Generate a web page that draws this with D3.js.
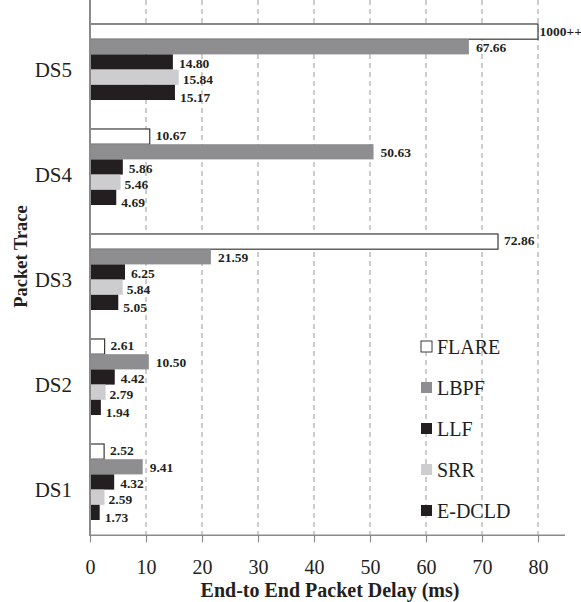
<!DOCTYPE html>
<html>
<head>
<meta charset="utf-8">
<script src="https://cdn.jsdelivr.net/npm/d3@7"></script>
<style>
  html, body { margin: 0; padding: 0; background: #fff; }
  svg { display: block; }
  text { font-family: "Liberation Serif", "Times New Roman", serif; fill: #231f20; }
</style>
</head>
<body>
<svg id="chart" width="581" height="602"></svg>
<script>
// Packet traces, top to bottom
const categories = ["DS5", "DS4", "DS3", "DS2", "DS1"];
const seriesNames = ["FLARE", "LBPF", "LLF", "SRR", "E-DCLD"];

// End-to-end packet delay (ms) per trace
const flare = [1000, 10.67, 72.86, 2.61, 2.52];
const lbpf  = [67.66, 50.63, 21.59, 10.50, 9.41];
const llf   = [14.80, 5.86, 6.25, 4.42, 4.32];
const srr   = [15.84, 5.46, 5.84, 2.79, 2.59];
const edcld = [15.17, 4.69, 5.05, 1.94, 1.73];

const xTicks = [0, 10, 20, 30, 40, 50, 60, 70, 80];
const xMax = 80;

const seriesValues = [flare, lbpf, llf, srr, edcld];
const seriesFill = ["#ffffff", "#8e8e90", "#231f20", "#cdcdcf", "#231f20"];
const seriesStroke = ["#3a3a3a", "none", "none", "none", "none"];
// label nudges for each series (dx, dy)
const labelDx = [6, 7, 6, 4, 5];
const labelDy = [-1, 0, 1, 2, 5];

const svg = d3.select("#chart");

const plotLeft = 90, plotRight = 538, plotTop = 9.5, plotBottom = 534.5, axisY = 535.3;

const x = d3.scaleLinear().domain([0, xMax]).range([plotLeft, plotRight]).clamp(true);
const y = d3.scaleBand().domain(categories).range([plotTop, plotBottom])
  .paddingInner(0.276).paddingOuter(0.138);
const ySub = d3.scaleBand().domain(seriesNames).range([0, y.bandwidth()]);

// dashed vertical gridlines
svg.append("g").selectAll("line")
  .data(xTicks.filter(d => d > 0))
  .join("line")
  .attr("x1", d => x(d)).attr("x2", d => x(d))
  .attr("y1", 0).attr("y2", axisY)
  .attr("stroke", "#9a9a9a").attr("stroke-width", 1)
  .attr("stroke-dasharray", "5,4");

// bars
const rows = [];
categories.forEach((c, i) => {
  seriesNames.forEach((s, j) => {
    rows.push({ cat: c, series: s, si: j, value: seriesValues[j][i] });
  });
});

const groups = svg.append("g");
groups.selectAll("rect")
  .data(rows)
  .join("rect")
  .attr("x", x(0))
  .attr("y", d => y(d.cat) + ySub(d.series))
  .attr("width", d => x(d.value) - x(0))
  .attr("height", ySub.bandwidth())
  .attr("fill", d => seriesFill[d.si])
  .attr("stroke", d => seriesStroke[d.si])
  .attr("stroke-width", 1.2);

// value labels
groups.selectAll("text")
  .data(rows)
  .join("text")
  .attr("x", d => x(d.value) + (d.value > xMax ? 1.5 : labelDx[d.si]))
  .attr("y", d => y(d.cat) + ySub(d.series) + ySub.bandwidth() / 2 + (d.value > xMax ? 0 : labelDy[d.si]))
  .attr("dy", "0.35em")
  .attr("font-size", 13.5)
  .attr("font-weight", "bold")
  .text(d => d.value > xMax ? "1000++" : d3.format(".2f")(d.value));

// x axis
const xAxis = svg.append("g")
  .attr("transform", `translate(0,${axisY})`)
  .call(d3.axisBottom(x).tickValues(xTicks).tickSize(7).tickPadding(18).tickFormat(d3.format("d")));
xAxis.select(".domain").remove();
xAxis.selectAll(".tick line").attr("stroke", "#8a8a8a").attr("stroke-width", 1.2);
xAxis.selectAll(".tick text").attr("font-size", 20).attr("font-family", "Liberation Serif").attr("fill", "#231f20");
svg.append("line")
  .attr("x1", plotLeft).attr("x2", 565)
  .attr("y1", axisY).attr("y2", axisY)
  .attr("stroke", "#8a8a8a").attr("stroke-width", 1.5);

// y axis line and category labels
svg.append("line")
  .attr("x1", plotLeft).attr("x2", plotLeft)
  .attr("y1", 0).attr("y2", axisY + 0.8)
  .attr("stroke", "#8a8a8a").attr("stroke-width", 2);

svg.append("g").selectAll("text")
  .data(categories)
  .join("text")
  .attr("x", 72)
  .attr("y", d => y(d) + y.bandwidth() / 2 + 8)
  .attr("dy", "0.35em")
  .attr("text-anchor", "end")
  .attr("font-size", 21)
  .text(d => d);

// axis titles
svg.append("text")
  .attr("x", 330).attr("y", 597)
  .attr("text-anchor", "middle")
  .attr("font-size", 20)
  .attr("font-weight", "bold")
  .text("End-to End Packet Delay (ms)");

svg.append("text")
  .attr("transform", "translate(26.5,256.5) rotate(-90)")
  .attr("text-anchor", "middle")
  .attr("font-size", 18.5)
  .attr("font-weight", "bold")
  .text("Packet Trace");

// legend
const legend = svg.append("g").attr("transform", "translate(421,341)");
const item = legend.selectAll("g")
  .data(seriesNames)
  .join("g")
  .attr("transform", (d, i) => `translate(0,${i * 41})`);
item.append("rect")
  .attr("width", 11).attr("height", 11)
  .attr("fill", (d, i) => seriesFill[i])
  .attr("stroke", (d, i) => seriesStroke[i] === "none" ? "none" : "#3a3a3a")
  .attr("stroke-width", 1);
item.append("text")
  .attr("x", 16).attr("y", 13)
  .attr("font-size", 20)
  .text(d => d);
</script>
</body>
</html>
